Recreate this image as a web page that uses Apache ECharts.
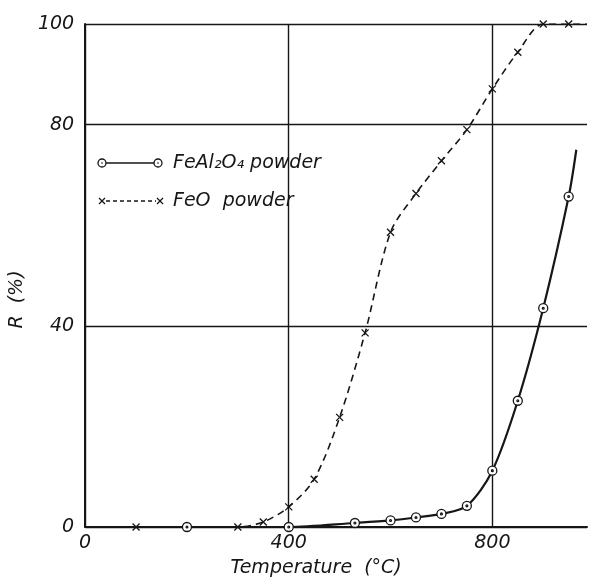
<!DOCTYPE html>
<html>
<head>
<meta charset="utf-8">
<script src="https://cdn.jsdelivr.net/npm/echarts@6/dist/echarts.min.js"></script>
<style>
  html, body { margin: 0; padding: 0; background: #fff; }
  #chart { width: 590px; height: 583px; }
</style>
</head>
<body>
<div id="chart"></div>
<script>
// FeAl2O4 powder (circles) - last point only carries the curve on, no marker
const feAlTemp = [200, 400, 530, 600, 650, 700, 750, 800, 850, 900, 950, 965];
const feAlR = [0, 0, 0.8, 1.3, 1.9, 2.6, 4.2, 11.2, 25.1, 43.5, 65.7, 75];

// FeO powder (crosses)
const feoTemp = [100, 300, 350, 400, 450, 500, 550, 600, 650, 700, 750, 800, 850, 900, 950, 986];
const feoR = [0, 0, 1, 4, 9.5, 21.8, 38.6, 58.6, 66.3, 72.8, 79, 87.1, 94.4, 100, 100, 100];

const xTicks = [0, 400, 800];
const yTicks = [0, 40, 80, 100];

const ink = '#161616';
const font = 'DejaVu Sans';
const dotCircle = 'path://M0,5a5,5 0 1,0 10,0a5,5 0 1,0 -10,0z M4,5a1,1 0 1,0 2,0a1,1 0 1,0 -2,0z';
const cross = 'path://M0,0L10,10M10,0L0,10';

const toData = (xs, ys) => xs.map((x, i) =>
    i === xs.length - 1 ? { value: [x, ys[i]], symbol: 'none' } : [x, ys[i]]);

const chart = echarts.init(document.getElementById('chart'));

const option = {
    backgroundColor: '#fff',
    animation: false,
    grid: { left: 77, right: 0, top: 24, bottom: 51 },
    xAxis: {
        type: 'value',
        min: 0,
        max: 986,
        interval: 400,
        name: 'Temperature  (°C)',
        nameLocation: 'middle',
        nameGap: 32,
        nameTextStyle: { fontFamily: font, fontStyle: 'italic', fontSize: 19, color: ink, padding: [0, 40, 0, 0] },
        axisLine: { show: true, lineStyle: { color: ink, width: 2 } },
        axisTick: { show: false },
        axisLabel: {
            margin: 7,
            fontFamily: font, fontStyle: 'italic', fontSize: 19, color: ink,
            formatter: v => (xTicks.includes(v) ? String(v) : '')
        },
        splitLine: { show: true, showMaxLine: false, lineStyle: { color: ink, width: 1.4 } }
    },
    yAxis: {
        type: 'value',
        min: 0,
        max: 100,
        interval: 40,
        name: 'R  (%)',
        nameLocation: 'middle',
        nameGap: 50,
        nameTextStyle: { fontFamily: font, fontStyle: 'italic', fontSize: 19, color: ink, padding: [0, 48, 0, 0] },
        axisLine: { show: true, lineStyle: { color: ink, width: 2 } },
        axisTick: { show: false },
        axisLabel: {
            margin: 11,
            fontFamily: font, fontStyle: 'italic', fontSize: 19, color: ink,
            formatter: v => (yTicks.includes(v) ? String(v) : '')
        },
        splitLine: {
            show: true,
            lineStyle: { color: ink, width: 1.4 }
        }
    },
    series: [
        {
            name: 'FeAl2O4 powder',
            type: 'line',
            data: toData(feAlTemp, feAlR),
            smooth: 0.3,
            symbol: dotCircle,
            symbolSize: 9,
            itemStyle: { color: '#fff', borderColor: ink, borderWidth: 1.3 },
            lineStyle: { color: ink, width: 2.2 },
            z: 3
        },
        {
            name: 'FeO powder',
            type: 'line',
            data: toData(feoTemp, feoR),
            smooth: 0.3,
            symbol: cross,
            symbolSize: 7,
            itemStyle: { color: '#fff', borderColor: ink, borderWidth: 1.3 },
            lineStyle: { color: ink, width: 1.6, type: [7, 5] },
            z: 2
        }
    ],
    // hand-made key, like the original drawing
    graphic: [
        { type: 'line', shape: { x1: 102, y1: 163, x2: 158, y2: 163 }, style: { stroke: ink, lineWidth: 1.6 } },
        { type: 'circle', shape: { cx: 102, cy: 163, r: 4 }, style: { fill: '#fff', stroke: ink, lineWidth: 1.3 } },
        { type: 'circle', shape: { cx: 102, cy: 163, r: 0.8 }, style: { fill: ink } },
        { type: 'circle', shape: { cx: 158, cy: 163, r: 4 }, style: { fill: '#fff', stroke: ink, lineWidth: 1.3 } },
        { type: 'circle', shape: { cx: 158, cy: 163, r: 0.8 }, style: { fill: ink } },
        {
            type: 'text', x: 173, y: 163,
            style: { text: 'FeAl₂O₄ powder', fontFamily: font, fontStyle: 'italic', fontSize: 19, fill: ink, verticalAlign: 'middle' }
        },
        { type: 'line', shape: { x1: 106, y1: 201, x2: 156, y2: 201 }, style: { stroke: ink, lineWidth: 1.3, lineDash: [4, 3] } },
        { type: 'line', shape: { x1: 99, y1: 198, x2: 105, y2: 204 }, style: { stroke: ink, lineWidth: 1.3 } },
        { type: 'line', shape: { x1: 105, y1: 198, x2: 99, y2: 204 }, style: { stroke: ink, lineWidth: 1.3 } },
        { type: 'line', shape: { x1: 157, y1: 198, x2: 163, y2: 204 }, style: { stroke: ink, lineWidth: 1.3 } },
        { type: 'line', shape: { x1: 163, y1: 198, x2: 157, y2: 204 }, style: { stroke: ink, lineWidth: 1.3 } },
        {
            type: 'text', x: 173, y: 201,
            style: { text: 'FeO  powder', fontFamily: font, fontStyle: 'italic', fontSize: 19, fill: ink, verticalAlign: 'middle' }
        }
    ]
};

chart.setOption(option);
window.addEventListener('resize', () => chart.resize());
</script>
</body>
</html>
